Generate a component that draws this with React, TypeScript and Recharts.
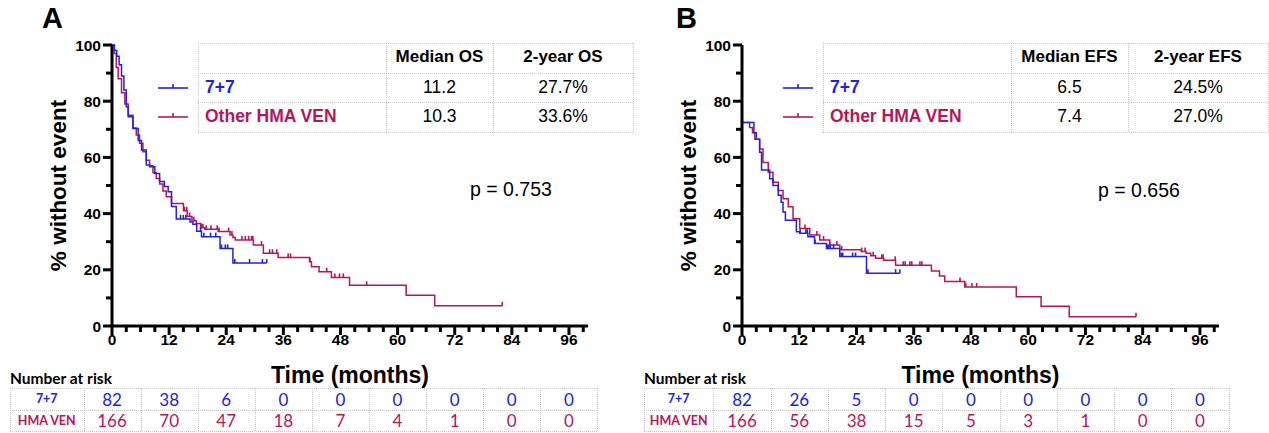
import React from 'react';
import { LineChart, Line, XAxis, YAxis } from 'recharts';

const BLUE = '#2222d6';
const RED = '#b3175b';
const ARIAL = '"Liberation Sans", Arial, sans-serif';
const CALIBRI = 'Lato, "Open Sans", sans-serif';

// Panel A, overall survival (months, % without event)
const osT77 = [0, 0.5, 1, 1.5, 2, 2.5, 3, 3.4, 4.4, 5.5, 6.2, 7.2, 7.9, 9, 10, 11, 11.8, 12.5, 13.5, 16.4, 17, 17.8, 18.8, 22.7, 25.4];
const osS77 = [100, 98, 96, 93, 89, 84, 78, 74.5, 70.3, 66, 62.6, 57.3, 56.7, 54.3, 51.4, 49.6, 47.8, 42.5, 38.1, 37, 36.2, 33.7, 31.8, 27.6, 22.4];
const osC77 = [14.4, 15, 15.5, 18.6, 19.3, 20.7, 21.8, 23, 23.8, 24.3, 25.8, 28.9, 31.6, 32.5];

const osTHma = [0, 0.5, 0.9, 1.3, 2, 2.7, 3.4, 4.4, 5.1, 5.8, 6.5, 7.2, 7.9, 8.6, 9.3, 10, 10.7, 11.4, 12.5, 15, 15.8, 16.8, 17.7, 18.6, 19.5, 22.3, 24.8, 25.4, 25.9, 29.7, 31.8, 34.9, 41.5, 41.9, 43.5, 46.1, 49.9, 61.8, 67.8];
const osSHma = [100, 97, 92, 88, 83, 79, 75, 70.5, 68, 65, 62, 59, 57, 54.5, 52.5, 50.5, 48, 46, 43.6, 41, 39, 37.5, 36.5, 35, 34.4, 33.6, 32.4, 31.5, 30.6, 28.8, 25.9, 24.4, 22.9, 21.1, 19.3, 17.3, 14.5, 10.9, 7.2];
const osCHma = [15.2, 15.7, 16.3, 17.2, 18.8, 19.1, 19.8, 20.8, 22.1, 22.5, 24.5, 25.2, 27.3, 28, 28.7, 29.3, 29.6, 31.4, 33.1, 33.7, 34.6, 37, 37.5, 41.6, 45.1, 46.8, 47.8, 48.6, 53.5, 82];

// Panel B, event-free survival
const efsT77 = [0, 0, 2.5, 3, 3.7, 4.1, 5.8, 6.5, 7.6, 8.2, 8.6, 9.1, 11.4, 12.1, 13.8, 15.2, 17.7, 20.5, 26.1];
const efsS77 = [100, 72.4, 68.8, 66.5, 61.8, 55.5, 52.4, 50, 46.5, 44, 40.6, 37.6, 33.5, 33, 31.8, 29.4, 27.6, 24.7, 18.8];
const efsC77 = [12.2, 13.4, 13.7, 15.3, 17.9, 18.2, 18.5, 19.2, 20.8, 21.1, 23.2, 23.8, 26.4, 32.2, 33.1];

const efsTHma = [0, 0, 1.6, 2.2, 2.7, 3.7, 4.4, 5.5, 6.5, 7.6, 8.6, 9.7, 10.7, 12.1, 14.2, 16.3, 18.4, 20.5, 25, 26, 27, 28, 29.7, 32.2, 39.7, 41.4, 42.5, 46.7, 57.5, 62.7, 68.6];
const efsSHma = [100, 72.4, 70.6, 68.8, 66.5, 63, 58.2, 54.7, 51.2, 48.2, 45.3, 42.4, 38.2, 34.7, 32.4, 30.6, 28.8, 27.1, 26.5, 25.9, 25, 24.1, 23.4, 21.6, 19.6, 17.8, 15.8, 13.9, 10.4, 7, 3.3];
const efsCHma = [13.2, 15.7, 17.1, 18.4, 19.9, 20.9, 25.1, 25.8, 27.5, 29.3, 29.6, 32.1, 33.8, 34.2, 35.2, 35.6, 37.3, 37.7, 45.7, 46.9, 48.2, 49.2, 82.6];

const xTicks = [0, 3, 6, 9, 12, 15, 18, 21, 24, 27, 30, 33, 36, 39, 42, 45, 48, 51, 54, 57, 60, 63, 66, 69, 72, 75, 78, 81, 84, 87, 90, 93, 96, 99];
const yTicks = [0, 10, 20, 30, 40, 50, 60, 70, 80, 90, 100];

const groups = ['7+7', 'Other HMA VEN'];
const medianOS = ['11.2', '10.3'];
const twoYearOS = ['27.7%', '33.6%'];
const medianEFS = ['6.5', '7.4'];
const twoYearEFS = ['24.5%', '27.0%'];

const riskLabels = ['7+7', 'HMA VEN'];
const riskOS77 = [82, 38, 6, 0, 0, 0, 0, 0, 0];
const riskOSHma = [166, 70, 47, 18, 7, 4, 1, 0, 0];
const riskEFS77 = [82, 26, 5, 0, 0, 0, 0, 0, 0];
const riskEFSHma = [166, 56, 38, 15, 5, 3, 1, 0, 0];

// merge event steps with censor times (censor value = current step level)
function buildSeries(times: number[], surv: number[], cens: number[]) {
  const pts = times.map((t, i) => ({ t, s: surv[i], c: false }));
  cens.forEach((ct) => {
    let s = surv[0];
    times.forEach((t, i) => {
      if (t <= ct) s = surv[i];
    });
    pts.push({ t: ct, s, c: true });
  });
  return pts.sort((a, b) => a.t - b.t || Number(a.c) - Number(b.c));
}

const censorDot = (color: string) => (props: any) => {
  const { cx, cy, payload, index } = props;
  if (!payload || !payload.c) return <g key={`d-${index}`} />;
  return <line key={`d-${index}`} x1={cx} x2={cx} y1={cy - 4} y2={cy} stroke={color} strokeWidth={1.6} />;
};

const XTick = (props: any) => {
  const { x, y, payload } = props;
  const v = payload.value;
  const major = v % 12 === 0;
  return (
    <g>
      <line x1={x} x2={x} y1={y} y2={y + (major ? 9 : 6)} stroke="#000" strokeWidth={3} />
      {major && (
        <text x={x} y={y + 19} textAnchor="middle" fontSize={15.5} fontWeight="bold" fill="#000" fontFamily={ARIAL}>
          {v}
        </text>
      )}
    </g>
  );
};

const YTick = (props: any) => {
  const { x, y, payload } = props;
  const v = payload.value;
  const major = v % 20 === 0;
  return (
    <g>
      <line x1={x - (major ? 9 : 6)} x2={x} y1={y} y2={y} stroke="#000" strokeWidth={3} />
      {major && (
        <text x={x - 11} y={y + 5.5} textAnchor="end" fontSize={15.5} fontWeight="bold" fill="#000" fontFamily={ARIAL}>
          {v}
        </text>
      )}
    </g>
  );
};

const KMPanel = ({ left, width, rightMargin, blue, red }: any) => (
  <div style={{ position: 'absolute', left, top: 0 }}>
    <LineChart width={width} height={400} margin={{ top: 45, right: rightMargin, bottom: 44, left: 0 }}>
      <XAxis
        type="number"
        dataKey="t"
        domain={[0, 100]}
        ticks={xTicks}
        interval={0}
        tickSize={0}
        tickMargin={0}
        tickLine={false}
        tick={XTick}
        height={30}
        axisLine={{ stroke: '#000', strokeWidth: 3 }}
        label={{ value: 'Time (months)', position: 'bottom', offset: 11, style: { fontSize: 23, fontWeight: 'bold', fill: '#000', fontFamily: ARIAL } }}
      />
      <YAxis
        type="number"
        dataKey="s"
        domain={[0, 100]}
        ticks={yTicks}
        interval={0}
        tickSize={0}
        tickMargin={0}
        tickLine={false}
        tick={YTick}
        width={112}
        axisLine={{ stroke: '#000', strokeWidth: 3 }}
        label={{ value: '% without event', angle: -90, position: 'center', dx: 2, style: { fontSize: 22.5, fontWeight: 'bold', fill: '#000', fontFamily: ARIAL } }}
      />
      <Line data={red} dataKey="s" type="stepAfter" stroke={RED} strokeWidth={1.5} dot={censorDot(RED)} activeDot={false} isAnimationActive={false} />
      <Line data={blue} dataKey="s" type="stepAfter" stroke={BLUE} strokeWidth={1.5} dot={censorDot(BLUE)} activeDot={false} isAnimationActive={false} />
    </LineChart>
  </div>
);

const dot = '1px dotted #c4c4c4';

const StatTable = ({ left, c1, c2, right, lineLeft, headers, medians, twoYears }: any) => {
  const ys = [43, 73, 102, 132];
  const colors = [BLUE, RED];
  return (
    <>
      {ys.map((y) => (
        <div key={`h${y}`} style={{ position: 'absolute', left, top: y, width: right - left, borderTop: dot }} />
      ))}
      {[left, c1, c2, right].map((x) => (
        <div key={`v${x}`} style={{ position: 'absolute', left: x, top: 43, height: 89, borderLeft: dot }} />
      ))}
      {headers.map((h: string, i: number) => {
        const a = i === 0 ? c1 : c2;
        const b = i === 0 ? c2 : right;
        return (
          <div key={h} style={{ position: 'absolute', left: a, width: b - a, top: 47, textAlign: 'center', fontFamily: ARIAL, fontWeight: 'bold', fontSize: 17 }}>
            {h}
          </div>
        );
      })}
      {groups.map((g, i) => {
        const top = ys[i + 1];
        return (
          <React.Fragment key={g}>
            <svg style={{ position: 'absolute', left: lineLeft, top: top + 7, overflow: 'visible' }} width={30} height={16}>
              <line x1={0} x2={30} y1={8} y2={8} stroke={colors[i]} strokeWidth={1.6} />
              <line x1={15} x2={15} y1={4} y2={8} stroke={colors[i]} strokeWidth={1.6} />
            </svg>
            <div style={{ position: 'absolute', left: left + 7, top: top + 4, fontFamily: ARIAL, fontWeight: 'bold', fontSize: 17.5, color: colors[i] }}>{g}</div>
            <div style={{ position: 'absolute', left: c1, width: c2 - c1, top: top + 4, textAlign: 'center', fontFamily: ARIAL, fontSize: 17.5 }}>{medians[i]}</div>
            <div style={{ position: 'absolute', left: c2, width: right - c2, top: top + 4, textAlign: 'center', fontFamily: ARIAL, fontSize: 17.5 }}>{twoYears[i]}</div>
          </React.Fragment>
        );
      })}
    </>
  );
};

const RiskTable = ({ left, labelRight, colW, rows }: any) => {
  const ys = [388, 409.5, 431];
  const colors = [BLUE, RED];
  const right = labelRight + colW * 9;
  const xs = [left, labelRight];
  for (let k = 1; k <= 9; k++) xs.push(labelRight + colW * k);
  return (
    <>
      <div style={{ position: 'absolute', left: left, top: 369, fontFamily: CALIBRI, fontWeight: 'bold', fontSize: 15.5 }}>Number at risk</div>
      {ys.map((y) => (
        <div key={`h${y}`} style={{ position: 'absolute', left, top: y, width: right - left, borderTop: dot }} />
      ))}
      {xs.map((x) => (
        <div key={`v${x}`} style={{ position: 'absolute', left: x, top: 388, height: 43, borderLeft: dot }} />
      ))}
      {rows.map((vals: number[], r: number) => (
        <React.Fragment key={r}>
          <div style={{ position: 'absolute', left, width: labelRight - left, top: ys[r] + 3, textAlign: 'center', fontFamily: CALIBRI, fontWeight: 'bold', fontSize: 12.5, color: colors[r] }}>
            {riskLabels[r]}
          </div>
          {vals.map((v, k) => (
            <div key={k} style={{ position: 'absolute', left: labelRight + colW * k, width: colW, top: ys[r] + 0.5, textAlign: 'center', fontFamily: CALIBRI, fontSize: 17, color: colors[r] }}>
              {v}
            </div>
          ))}
        </React.Fragment>
      ))}
    </>
  );
};

export default function App() {
  const osBlue = buildSeries(osT77, osS77, osC77);
  const osRed = buildSeries(osTHma, osSHma, osCHma);
  const efsBlue = buildSeries(efsT77, efsS77, efsC77);
  const efsRed = buildSeries(efsTHma, efsSHma, efsCHma);

  return (
    <div style={{ position: 'absolute', left: 0, top: 0, width: 1269, height: 433, background: '#fff', overflow: 'hidden' }}>
      <KMPanel left={0} width={600} rightMargin={12} blue={osBlue} red={osRed} />
      <KMPanel left={630} width={620} rightMargin={31} blue={efsBlue} red={efsRed} />

      <div style={{ position: 'absolute', left: 42, top: 2, fontFamily: ARIAL, fontWeight: 'bold', fontSize: 29 }}>A</div>
      <div style={{ position: 'absolute', left: 676, top: 2, fontFamily: ARIAL, fontWeight: 'bold', fontSize: 29 }}>B</div>

      <StatTable left={198} c1={386} c2={493} right={633} lineLeft={158} headers={['Median OS', '2-year OS']} medians={medianOS} twoYears={twoYearOS} />
      <StatTable left={823} c1={1011} c2={1128} right={1268} lineLeft={783} headers={['Median EFS', '2-year EFS']} medians={medianEFS} twoYears={twoYearEFS} />

      <div style={{ position: 'absolute', left: 470, top: 178, fontFamily: ARIAL, fontSize: 19.5 }}>p = 0.753</div>
      <div style={{ position: 'absolute', left: 1098, top: 179, fontFamily: ARIAL, fontSize: 19.5 }}>p = 0.656</div>

      <RiskTable left={10} labelRight={83.5} colW={57.1} rows={[riskOS77, riskOSHma]} />
      <RiskTable left={644} labelRight={713.4} colW={57.24} rows={[riskEFS77, riskEFSHma]} />
    </div>
  );
}
